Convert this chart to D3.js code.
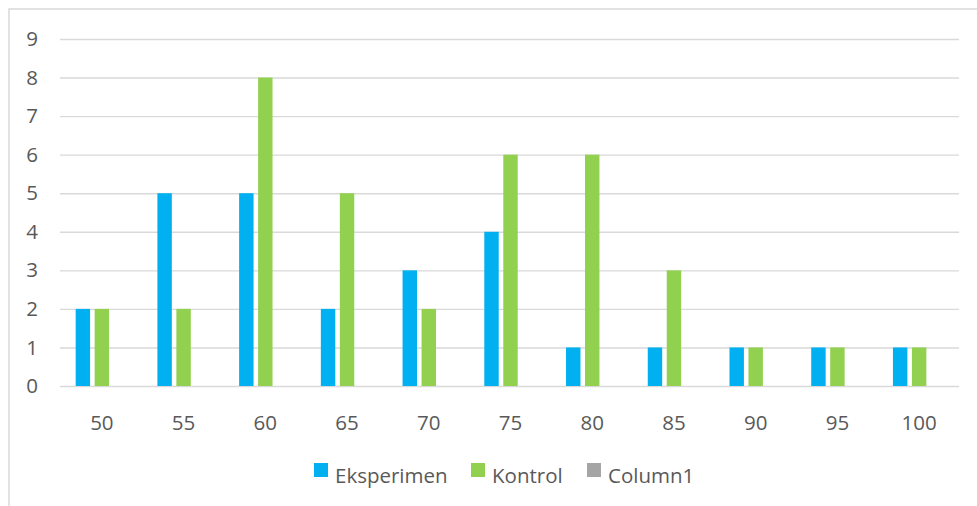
<!DOCTYPE html>
<html><head><meta charset="utf-8">
<script src="https://cdn.jsdelivr.net/npm/d3@7"></script>
<style>body{margin:0;background:#fff;} svg{display:block;}</style>
</head><body>
<script>
const categories = ["50","55","60","65","70","75","80","85","90","95","100"];
const seriesNames = ["Eksperimen","Kontrol","Column1"];
const eksperimen = [2,5,5,2,3,4,1,1,1,1,1];
const kontrol = [2,2,8,5,2,6,6,3,1,1,1];
const column1 = [null,null,null,null,null,null,null,null,null,null,null];
const yTicks = [0,1,2,3,4,5,6,7,8,9];
const colors = ["#00B0F0","#92D050","#A5A5A5"];

const W = 977, H = 506;
const font = "'Open Sans', sans-serif";
const fs = "20.5px";
const svg = d3.select("body").append("svg").attr("width", W).attr("height", H);

svg.append("rect").attr("x",9).attr("y",9).attr("width",990).attr("height",520)
  .attr("fill","#fff").attr("stroke","#d9d9d9").attr("stroke-width",1.5);

const x0 = d3.scaleBand().domain(categories).range([60,959]).padding(0);
const bw = x0.bandwidth();
const x1 = d3.scaleBand().domain(seriesNames).range([bw/2 - 25.2, bw/2 + 27.2]).paddingInner(0.24).paddingOuter(0);
const y = d3.scaleLinear().domain([0,9]).range([386,39]);

// gridlines
const yAxis = d3.axisLeft(y).tickValues(yTicks).tickSize(-(959-60)).tickFormat(d3.format("d"));
const gy = svg.append("g").attr("transform","translate(60,0)").call(yAxis);
gy.select(".domain").remove();
gy.selectAll(".tick line").attr("stroke","#d9d9d9").attr("stroke-width",1.4);
gy.selectAll(".tick text").attr("x",-22).attr("fill","#595959")
  .style("font-family",font).style("font-size",fs);

const data = [eksperimen, kontrol, column1];
const groups = svg.append("g").selectAll("g").data(categories).join("g")
  .attr("transform", d => `translate(${x0(d)},0)`);
groups.selectAll("rect").data((d,i) => seriesNames.map((s,j) => ({s, v: data[j][i]})).filter(e => e.v != null))
  .join("rect")
  .attr("x", d => x1(d.s)).attr("width", x1.bandwidth())
  .attr("y", d => y(d.v)).attr("height", d => y(0) - y(d.v))
  .attr("fill", d => colors[seriesNames.indexOf(d.s)]);

// x axis
const xAxis = d3.axisBottom(x0).tickSize(0).tickPadding(0);
const gx = svg.append("g").attr("transform","translate(1,386)").call(xAxis);
gx.select(".domain").remove();
gx.selectAll(".tick text").attr("y",44).attr("dy",0).attr("fill","#595959")
  .style("font-family",font).style("font-size",fs);

// legend
const legendX = [314, 471, 587];
const lg = svg.append("g").selectAll("g").data(seriesNames).join("g")
  .attr("transform",(d,i)=>`translate(${legendX[i]},463)`);
lg.append("rect").attr("width",14).attr("height",14).attr("fill",(d,i)=>colors[i]);
lg.append("text").attr("x",21).attr("y",20).text(d=>d).attr("fill","#595959")
  .style("font-family",font).style("font-size",fs);
</script>
</body></html>
